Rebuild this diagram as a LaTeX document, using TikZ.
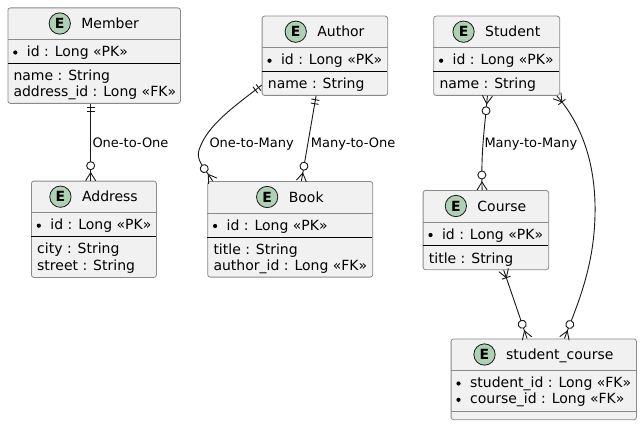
\documentclass[tikz,border=0pt]{standalone}
\usepackage{fontspec}
\setmainfont{DejaVu Sans}
\usetikzlibrary{decorations.markings}
\definecolor{boxfill}{HTML}{F1F1F1}
\definecolor{boxline}{HTML}{8A8A8A}
\definecolor{efill}{HTML}{ADD1B2}
\definecolor{lnk}{HTML}{181818}
\tikzset{
  ent/.style={draw=boxline, fill=boxfill, rounded corners=2.5pt, line width=0.8pt, inner sep=0pt},
  hsep/.style={draw=boxline, line width=0.8pt},
  bsep/.style={draw=black, line width=0.9pt},
  etitle/.style={inner sep=0pt, font=\fontsize{14pt}{16pt}\selectfont},
  ecirc/.style={circle, draw=lnk, fill=efill, minimum size=21.3pt, inner sep=0pt, line width=0.8pt, font=\bfseries\fontsize{14pt}{14pt}\selectfont},
  rowtxt/.style={inner sep=0pt, anchor=base west, font=\fontsize{14pt}{16pt}\selectfont},
  lbl/.style={inner sep=0pt, anchor=base west, font=\fontsize{13pt}{15pt}\selectfont},
  link/.style={draw=lnk, line width=0.9pt},
  s-one/.style={postaction={decorate, decoration={markings,
      mark=at position 4pt with {\draw[link] (0,-4pt) -- (0,4pt);},
      mark=at position 8pt with {\draw[link] (0,-4pt) -- (0,4pt);}}}},
  s-zmany/.style={postaction={decorate, decoration={markings,
      mark=at position 8pt with {\draw[link] (-8pt,5pt) -- (0,0) -- (-8pt,-5pt);},
      mark=at position 15pt with {\draw[link, fill=white] (0,0) circle (4pt);}}}},
  s-omany/.style={postaction={decorate, decoration={markings,
      mark=at position 8pt with {\draw[link] (-8pt,5pt) -- (0,0) -- (-8pt,-5pt); \draw[link] (0,-4.5pt) -- (0,4.5pt);}}}},
  e-zmany/.style={postaction={decorate, decoration={markings,
      mark=at position -8pt with {\draw[link] (8pt,5pt) -- (0,0) -- (8pt,-5pt);},
      mark=at position -15pt with {\draw[link, fill=white] (0,0) circle (4pt);}}}},
}
\newcommand\entbox[6]{%
  \node[ent, minimum width=#4pt, minimum height=#5pt, anchor=north west] (#1) at (#2,#3) {};
  \draw[hsep] ([yshift=-32pt]#1.north west) -- ([yshift=-32pt]#1.north east);
  \node[etitle, anchor=base] (#1-t) at ([xshift=16pt,yshift=-21pt]#1.north) {#6};
  \node[ecirc] (#1-e) at ([xshift=-21.4pt,yshift=5pt]#1-t.base west) {E};
}
\newcommand\bulrow[4]{% name, x1, baseline, text
  \fill[black] (#2+7.8,#3-4) circle (2.1pt);
  \node[rowtxt] (#1) at (#2+19.2,#3) {#4};
}
\begin{document}
\begin{tikzpicture}[x=1pt,y=-1pt]
\fill[white] (0,0) rectangle (642,425);
\useasboundingbox (0,0) rectangle (642,425);

% Member
\entbox{member}{7.5}{7.5}{172.5}{95.5}{Member}
\bulrow{member-r1}{7.5}{56.5}{id : Long «PK»}
\draw[bsep] (7.5,63.5) -- (180,63.5);
\node[rowtxt] (member-r2) at (13.3,80.5) {name : String};
\node[rowtxt] (member-r3) at (13.3,96.8) {address\_id : Long «FK»};

% Address
\entbox{address}{31}{180.7}{125}{96.3}{Address}
\bulrow{address-r1}{31}{229.7}{id : Long «PK»}
\draw[bsep] (31,236.7) -- (156,236.7);
\node[rowtxt] (address-r2) at (37,253.7) {city : String};
\node[rowtxt] (address-r3) at (37,270) {street : String};

% Author
\entbox{author}{261.7}{15.7}{125.6}{79.3}{Author}
\bulrow{author-r1}{261.7}{64.7}{id : Long «PK»}
\draw[bsep] (261.7,71.5) -- (387.3,71.5);
\node[rowtxt] (author-r2) at (267.7,88.7) {name : String};

% Book
\entbox{book}{207.3}{181}{165}{95.7}{Book}
\bulrow{book-r1}{207.3}{230}{id : Long «PK»}
\draw[bsep] (207.3,237) -- (372.3,237);
\node[rowtxt] (book-r2) at (213.3,254) {title : String};
\node[rowtxt] (book-r3) at (213.3,270.3) {author\_id : Long «FK»};

% Student
\entbox{student}{433.3}{15.7}{126}{79.3}{Student}
\bulrow{student-r1}{433.3}{64.7}{id : Long «PK»}
\draw[bsep] (433.3,71.5) -- (559.3,71.5);
\node[rowtxt] (student-r2) at (439.3,88.7) {name : String};

% Course
\entbox{course}{422.7}{190}{125.6}{79.3}{Course}
\bulrow{course-r1}{422.7}{239}{id : Long «PK»}
\draw[bsep] (422.7,245.8) -- (548.3,245.8);
\node[rowtxt] (course-r2) at (428.7,263) {title : String};

% student_course
\entbox{sc}{450.7}{338.5}{185.3}{80.8}{student\_course}
\bulrow{sc-r1}{450.7}{387.5}{student\_id : Long «FK»}
\bulrow{sc-r2}{450.7}{403.8}{course\_id : Long «FK»}
\draw[hsep] (450.7,411) -- (636,411);

% connectors
\draw[link, s-one, e-zmany] ([xshift=-3.5pt]member.south) -- ([xshift=-3.5pt]member.south |- address.north);
\draw[link, s-one, e-zmany] ([yshift=10.7pt]author.south west) .. controls (235,106) and (207,125) .. (199,150) .. controls (196,160) and (203,166) .. ([xshift=5.4pt]book.north west);
\draw[link, s-one, e-zmany] ([xshift=-8.8pt]author.south) -- ([xshift=11.2pt]book.north);
\draw[link, s-zmany, e-zmany] ([xshift=-9.3pt]student.south) .. controls (484,135) and (481,150) .. ([xshift=-3.8pt]course.north);
\draw[link, s-omany, e-zmany] ([xshift=-3.3pt]student.south east) .. controls (585,128) and (596,170) .. (595,215) .. controls (594,270) and (575,310) .. ([xshift=20.7pt]sc.north);
\draw[link, s-omany, e-zmany] ([xshift=17.8pt]course.south) -- ([xshift=-16.65pt]sc.north);

% labels
\node[lbl] (l1) at (92.3,147) {One-to-One};
\node[lbl] (l2) at (209.3,147) {One-to-Many};
\node[lbl] (l3) at (310.7,147) {Many-to-One};
\node[lbl] (l4) at (484.3,147) {Many-to-Many};
\end{tikzpicture}
\end{document}
